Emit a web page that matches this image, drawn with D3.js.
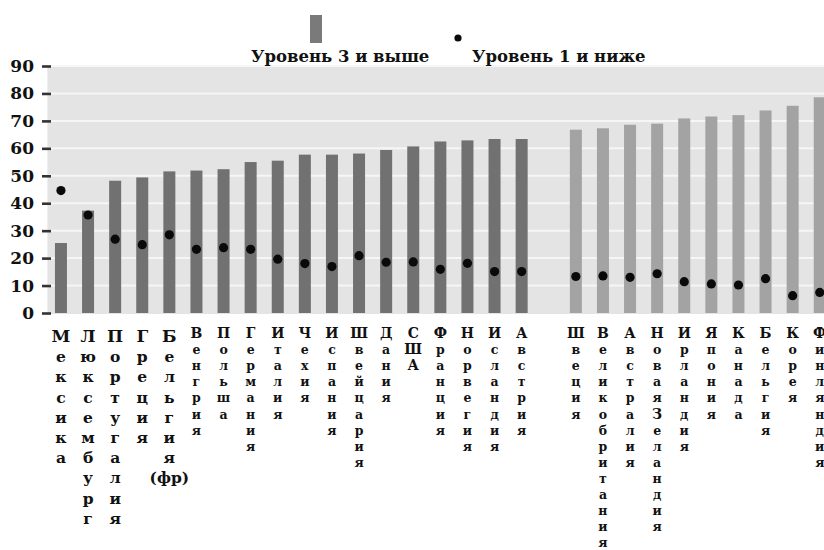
<!DOCTYPE html>
<html>
<head>
<meta charset="utf-8">
<script src="https://cdn.jsdelivr.net/npm/d3@7"></script>
<style>
  body { margin: 0; background: #fff; }
  svg { display: block; font-family: "DejaVu Serif", "Liberation Serif", serif; font-weight: bold; }
</style>
</head>
<body>
<svg id="chart" width="824" height="550"></svg>
<script>
'use strict';
// countries, left block and right block (a gap between them)
const countriesA = ['Мексика', 'Люксембург', 'Португалия', 'Греция', 'Бельгия (фр)', 'Венгрия',
  'Польша', 'Германия', 'Италия', 'Чехия', 'Испания', 'Швейцария', 'Дания', 'США',
  'Франция', 'Норвегия', 'Исландия', 'Австрия'];
const countriesB = ['Швеция', 'Великобритания', 'Австралия', 'Новая Зеландия', 'Ирландия',
  'Япония', 'Канада', 'Бельгия', 'Корея', 'Финляндия'];
// Уровень 3 и выше (bars)
const level3A = [25.5, 37.3, 48.2, 49.4, 51.6, 51.9, 52.4, 55.0, 55.5, 57.7, 57.7, 58.1, 59.4, 60.7, 62.5, 62.9, 63.4, 63.4];
const level3B = [66.8, 67.3, 68.6, 69.0, 70.9, 71.6, 72.1, 73.8, 75.5, 78.6];
// Уровень 1 и ниже (dots)
const level1A = [44.6, 35.7, 26.9, 24.9, 28.5, 23.2, 23.8, 23.2, 19.6, 18.0, 16.9, 20.9, 18.5, 18.6, 15.9, 18.1, 15.1, 15.1];
const level1B = [13.3, 13.5, 13.0, 14.3, 11.4, 10.6, 10.2, 12.5, 6.3, 7.5];
const yTicks = [0, 10, 20, 30, 40, 50, 60, 70, 80, 90];
const legendLabels = ['Уровень 3 и выше', 'Уровень 1 и ниже'];

const svg = d3.select('#chart');
const W = 824;
const x0 = 47.4, step = 27.1, yBottom = 313, yTop = 66;

const domain = [...countriesA, '__gap__', ...countriesB];
const data = [
  ...countriesA.map((c, i) => ({c, v3: level3A[i], v1: level1A[i], grp: 'A'})),
  ...countriesB.map((c, i) => ({c, v3: level3B[i], v1: level1B[i], grp: 'B'})),
];

const x = d3.scaleBand()
  .domain(domain)
  .range([x0, x0 + step * domain.length])
  .paddingInner(0.557)
  .paddingOuter(0.2785);

const y = d3.scaleLinear().domain([0, 90]).range([yBottom, yTop]);

// plot background + white grid
svg.append('rect')
  .attr('x', x0).attr('y', yTop)
  .attr('width', W - x0).attr('height', yBottom - yTop + 1)
  .attr('fill', '#e4e4e4');
svg.append('g')
  .selectAll('line')
  .data(yTicks.slice(1))
  .join('line')
  .attr('x1', x0).attr('x2', W)
  .attr('y1', d => y(d)).attr('y2', d => y(d))
  .attr('stroke', '#f6f6f6')
  .attr('stroke-width', 2);

// y axis: dash ticks + labels
const yAxis = svg.append('g')
  .attr('transform', `translate(51,0)`)
  .call(d3.axisLeft(y).tickValues(yTicks).tickSize(9).tickPadding(8));
yAxis.select('.domain').remove();
yAxis.selectAll('.tick line').attr('stroke', '#333').attr('stroke-width', 2.6);
yAxis.selectAll('.tick text')
  .attr('font-family', '"DejaVu Serif", serif')
  .attr('font-weight', 'bold')
  .attr('font-size', 17)
  .attr('fill', '#111');

// bars
svg.append('g')
  .selectAll('rect')
  .data(data)
  .join('rect')
  .attr('x', d => x(d.c))
  .attr('width', x.bandwidth())
  .attr('y', d => y(d.v3))
  .attr('height', d => y(0) - y(d.v3))
  .attr('fill', d => d.grp === 'A' ? '#717171' : '#a3a3a3');

// dots
svg.append('g')
  .selectAll('circle')
  .data(data)
  .join('circle')
  .attr('cx', d => x(d.c) + x.bandwidth() / 2)
  .attr('cy', d => y(d.v1))
  .attr('r', 4.6)
  .attr('fill', '#0a0a0a');

// vertical stacked labels
const bigLabels = 5; // first few labels are set larger
data.forEach((d, i) => {
  const big = i < bigLabels;
  const capSize = big ? 17 : 14;
  const lowSize = big ? 15.5 : 12.5;
  const base = big ? 342 : 338;
  const lineStep = big ? 20.2 : 16.1;
  const cx = x(d.c) + x.bandwidth() / 2;
  const lines = [];
  d.c.split(' ').forEach(word => {
    if (word.startsWith('(')) lines.push(word);
    else [...word].forEach(ch => lines.push(ch));
  });
  lines.forEach((t, k) => {
    const isCap = t.length === 1 && t === t.toUpperCase();
    svg.append('text')
      .attr('x', cx)
      .attr('y', base + k * lineStep)
      .attr('text-anchor', 'middle')
      .attr('font-size', isCap ? capSize : lowSize)
      .attr('fill', '#111')
      .text(t);
  });
});

// legend
svg.append('rect')
  .attr('x', 310).attr('y', 15).attr('width', 12).attr('height', 28)
  .attr('fill', '#7a7a7a');
svg.append('text')
  .attr('x', 251).attr('y', 62)
  .attr('font-size', 16.5)
  .attr('fill', '#111')
  .text(legendLabels[0]);
svg.append('circle')
  .attr('cx', 458).attr('cy', 38).attr('r', 3.6)
  .attr('fill', '#0a0a0a');
svg.append('text')
  .attr('x', 472).attr('y', 62)
  .attr('font-size', 16.5)
  .attr('fill', '#111')
  .text(legendLabels[1]);
</script>
</body>
</html>
